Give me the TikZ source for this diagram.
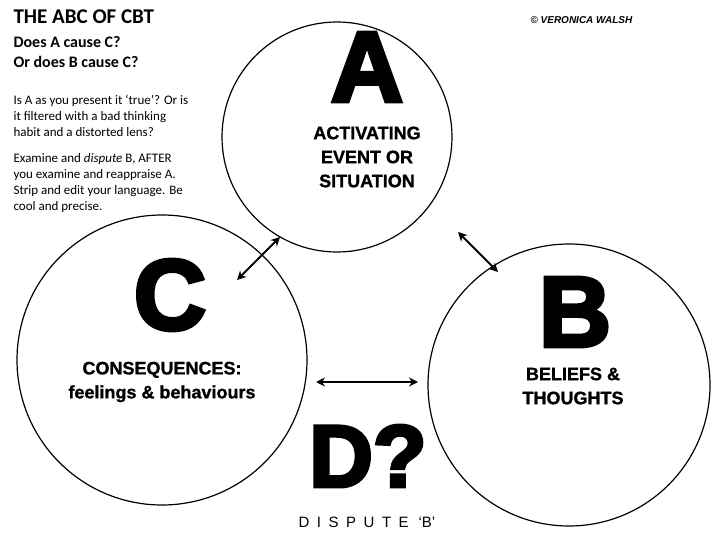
\documentclass[tikz,border=0pt]{standalone}
\usepackage{fontspec}
\setmainfont{Carlito}
\newfontfamily\ar{Liberation Sans}
\newfontfamily\arb[FakeBold=4]{Liberation Sans Bold}
\newfontfamily\arl[FakeBold=1.2]{Liberation Sans Bold}
\usetikzlibrary{arrows.meta}
\begin{document}
\begin{tikzpicture}[x=1pt,y=-1pt,
  circ/.style={draw=black,line width=1.2pt,fill=white},
  big/.style={font=\arb\fontsize{100}{100}\selectfont},
  lab/.style={font=\arl\fontsize{18}{24}\selectfont,align=center},
  arr/.style={{Stealth[length=9pt,width=9pt]}-{Stealth[length=9pt,width=9pt]},line width=2pt}]
\useasboundingbox[fill=white] (0,0) rectangle (720,540);
\node[circ,circle,minimum size=230] (A) at (337,137) {};
\node[circ,circle,minimum size=290] (C) at (162,360) {};
\node[circ,circle,minimum size=282] (B) at (569,385) {};
\node[big] (la) at (367,67) {A};
\node[lab] (ta) at (367,157) {ACTIVATING\\EVENT OR\\SITUATION};
\node[big] (lc) at (170,295) {C};
\node[lab] (tc) at (162,382) {CONSEQUENCES:\\feelings \& behaviours};
\node[big] (lb) at (575,312) {B};
\node[lab] (tb) at (573,386) {BELIEFS \&\\THOUGHTS};
\node[font=\arb\fontsize{88}{88}\selectfont] (ld) at (368,456) {D?};
\node[font=\ar\fontsize{15}{15}\selectfont] (dis) at (367,522) {D\,\,\,I\,\,\,S\,\,\,P\,\,\,U\,\,\,T\,\,\,E\,\,\,\,‘B’};
\coordinate (a1) at (280,237); \coordinate (c1) at (237,280);
\coordinate (a2) at (458,232); \coordinate (b2) at (498,272);
\coordinate (c3) at (316,382); \coordinate (b3) at (418,382);
\draw[arr] (c1) -- (a1);
\draw[arr] (a2) -- (b2);
\draw[arr] (c3) -- (b3);
\node[anchor=north west,font=\bfseries\fontsize{21}{22}\selectfont] (t1) at (10,6) {THE ABC OF CBT};
\node[anchor=north west,font=\bfseries\fontsize{16}{20}\selectfont,align=left] (t2) at (10,33) {Does A cause C?\\Or does B cause C?};
\node[anchor=north west,font=\fontsize{13}{16}\selectfont,align=left] (t3) at (10,92) {Is A as you present it ‘true’? Or is\\it filtered with a bad thinking\\habit and a distorted lens?\\[10pt]Examine and \emph{dispute} B, AFTER\\you examine and reappraise A.\\Strip and edit your language. Be\\cool and precise.};
\node[anchor=north west,font=\ar\bfseries\itshape\fontsize{10}{10}\selectfont] (cr) at (527,13) {© VERONICA WALSH};
\end{tikzpicture}
\end{document}
